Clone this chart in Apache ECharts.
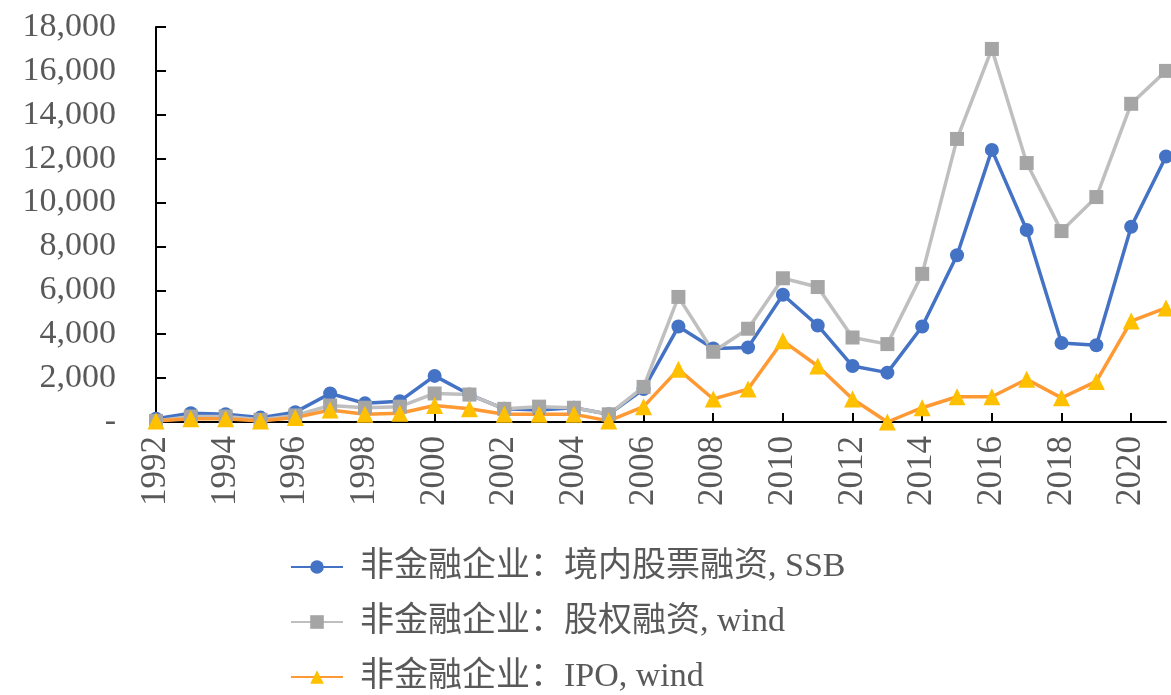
<!DOCTYPE html>
<html>
<head>
<meta charset="utf-8">
<script src="https://cdn.jsdelivr.net/npm/echarts@6/dist/echarts.min.js"></script>
<style>html,body{margin:0;padding:0;background:#fff;}#c{width:1171px;height:695px;}</style>
</head>
<body>
<div id="c"></div>
<script>
const years = ['1992','1993','1994','1995','1996','1997','1998','1999','2000','2001','2002','2003','2004','2005','2006','2007','2008','2009','2010','2011','2012','2013','2014','2015','2016','2017','2018','2019','2020','2021'];
const ssbEquity = [150,400,350,200,450,1300,850,950,2100,1250,600,550,650,350,1500,4350,3350,3400,5800,4400,2550,2250,4350,7600,12400,8750,3600,3500,8900,12100];
const windEquity = [50,250,250,100,300,750,650,700,1300,1250,600,700,650,350,1600,5700,3200,4250,6550,6150,3850,3550,6750,12900,17000,11800,8700,10250,14500,16000];
const windIPO = [50,150,150,50,200,550,350,400,750,600,350,350,350,50,700,2400,1050,1500,3700,2550,1050,0,650,1150,1150,1950,1100,1850,4600,5200];
const seriesNames = ['非金融企业：境内股票融资, SSB','非金融企业：股权融资, wind','非金融企业：IPO, wind'];

const serif = '"Liberation Serif", "Times New Roman", "Noto Sans CJK SC", serif';
const chart = echarts.init(document.getElementById('c'));
chart.setOption({
  animation: false,
  backgroundColor: '#fff',
  grid: {left: 156, right: 5, top: 27, bottom: 273, containLabel: false},
  legend: {
    orient: 'vertical', left: 285, top: 545, height: 400, itemGap: 21,
    itemWidth: 52, itemHeight: 17,
    textStyle: {fontFamily: serif, fontSize: 34, lineHeight: 34, color: '#595959', padding: [0, 0, 0, 12]},
    data: seriesNames
  },
  xAxis: {
    type: 'category', data: years, boundaryGap: false,
    axisLine: {lineStyle: {color: '#000', width: 2}},
    axisTick: {inside: true, length: 9, interval: 1, lineStyle: {color: '#000', width: 2}},
    axisLabel: {interval: 1, rotate: 90, margin: 14, fontFamily: serif, fontSize: 35, color: '#595959'}
  },
  yAxis: {
    type: 'value', min: 0, max: 18000, interval: 2000,
    splitLine: {show: false},
    axisLine: {show: true, lineStyle: {color: '#000', width: 2}},
    axisTick: {show: true, inside: true, length: 10, lineStyle: {color: '#000', width: 2}},
    axisLabel: {margin: 40, fontFamily: serif, fontSize: 34, color: '#595959',
      formatter: v => v === 0 ? '-' : v.toLocaleString('en-US')}
  },
  series: [
    {name: seriesNames[0], type: 'line', data: ssbEquity, symbol: 'circle', symbolSize: 14,
     lineStyle: {color: '#4472C4', width: 3.5}, itemStyle: {color: '#4472C4'}},
    {name: seriesNames[1], type: 'line', data: windEquity, symbol: 'rect', symbolSize: 14,
     lineStyle: {color: '#BFBFBF', width: 3.5}, itemStyle: {color: '#A5A5A5'}},
    {name: seriesNames[2], type: 'line', data: windIPO, symbol: 'triangle', symbolSize: 17,
     lineStyle: {color: '#FF9933', width: 3.5}, itemStyle: {color: '#FFC000'}}
  ]
});
</script>
</body>
</html>
